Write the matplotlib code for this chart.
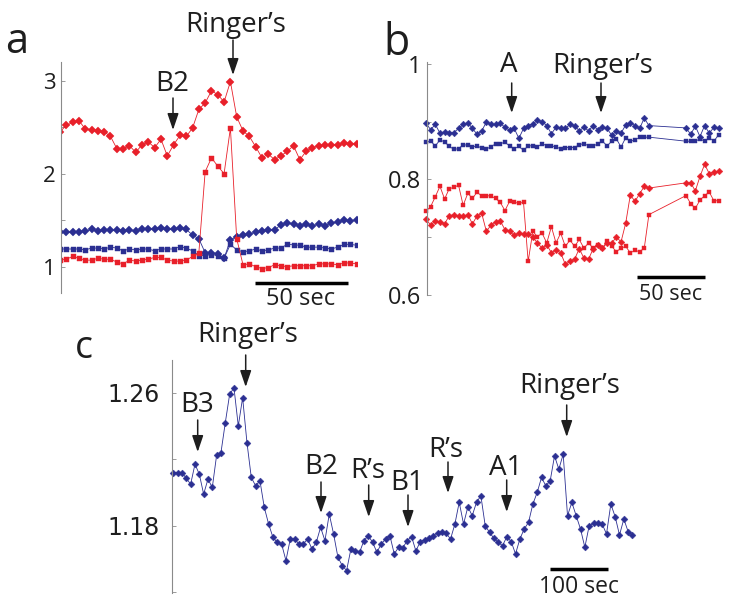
import numpy as np
import matplotlib
matplotlib.use('Agg')
import matplotlib.pyplot as plt
from matplotlib.patches import FancyArrowPatch
from matplotlib.ticker import FixedLocator

plt.rcParams['font.family'] = ['Open Sans', 'DejaVu Sans']

W, H = 729, 600
RED = '#e8202a'
BLUE = '#2b2f92'
INK = '#1e1e1e'
SPINE = '#8a8a8a'

# ---------------- Panel a (one sample every 3.4 s) ----------------
A_DT = 3.4
a_red_diamond = [2.45, 2.52, 2.55, 2.57, 2.48, 2.47, 2.46, 2.45, 2.40, 2.27,
                 2.27, 2.30, 2.23, 2.31, 2.34, 2.28, 2.37, 2.19, 2.31, 2.41,
                 2.40, 2.49, 2.69, 2.76, 2.89, 2.85, 2.77, 2.99, 2.61, 2.46,
                 2.40, 2.29, 2.17, 2.21, 2.15, 2.19, 2.24, 2.30, 2.15, 2.24,
                 2.28, 2.30, 2.31, 2.31, 2.31, 2.33, 2.32, 2.32]
a_blue_diamond = [1.37, 1.37, 1.37, 1.37, 1.38, 1.40, 1.38, 1.39, 1.39, 1.39,
                  1.38, 1.39, 1.38, 1.40, 1.40, 1.41, 1.42, 1.40, 1.40, 1.42,
                  1.40, 1.34, 1.30, 1.15, 1.15, 1.14, 1.09, 1.29, 1.32, 1.34,
                  1.35, 1.37, 1.38, 1.395, 1.395, 1.45, 1.47, 1.455, 1.44, 1.455,
                  1.44, 1.455, 1.44, 1.47, 1.48, 1.50, 1.49, 1.50]
a_blue_square = [1.19, 1.19, 1.19, 1.19, 1.18, 1.20, 1.20, 1.19, 1.21, 1.20,
                 1.17, 1.19, 1.18, 1.19, 1.19, 1.17, 1.19, 1.19, 1.19, 1.215,
                 1.20, 1.17, 1.12, 1.12, 1.13, 1.12, 1.09, 1.24, 1.18, 1.16,
                 1.17, 1.19, 1.17, 1.18, 1.20, 1.20, 1.24, 1.235, 1.23, 1.21,
                 1.21, 1.21, 1.20, 1.19, 1.21, 1.24, 1.24, 1.23]
a_red_square = [1.07, 1.08, 1.11, 1.09, 1.07, 1.07, 1.09, 1.08, 1.08, 1.05,
                1.03, 1.07, 1.06, 1.07, 1.08, 1.10, 1.10, 1.07, 1.06, 1.06,
                1.07, 1.11, 1.15, 2.02, 2.17, 2.08, 2.00, 2.49, 1.30, 1.02,
                1.03, 1.00, 0.98, 0.99, 1.02, 1.01, 1.00, 1.01, 1.01, 1.01,
                1.01, 1.03, 1.03, 1.03, 1.02, 1.04, 1.04, 1.03]
A_YTICKS = [1, 2, 3]
A_YTICKLABELS = ['1', '2', '3']
A_YMINOR = [1.5, 2.5]

# ---------------- Panel b (one sample every 3.4 s, recording gap) ----------------
B_DT = 3.4
b_sample = list(range(0, 49)) + list(range(56, 64))
b_blue_diamond = [0.897, 0.886, 0.895, 0.880, 0.882, 0.880, 0.881, 0.888, 0.895, 0.898,
                  0.888, 0.878, 0.884, 0.899, 0.895, 0.895, 0.897, 0.890, 0.885, 0.888,
                  0.871, 0.888, 0.893, 0.896, 0.902, 0.900, 0.893, 0.879, 0.890, 0.889,
                  0.888, 0.895, 0.893, 0.884, 0.890, 0.884, 0.893, 0.886, 0.891, 0.888,
                  0.876, 0.884, 0.880, 0.894, 0.898, 0.893, 0.888, 0.906, 0.893,
                  0.889, 0.878, 0.892, 0.874, 0.893, 0.880, 0.890, 0.889]
b_blue_square = [0.864, 0.866, 0.858, 0.868, 0.865, 0.857, 0.852, 0.853, 0.860, 0.859,
                 0.856, 0.858, 0.854, 0.853, 0.856, 0.862, 0.862, 0.864, 0.858, 0.853,
                 0.857, 0.850, 0.858, 0.858, 0.856, 0.862, 0.858, 0.858, 0.856, 0.853,
                 0.855, 0.855, 0.855, 0.860, 0.862, 0.858, 0.857, 0.862, 0.866, 0.858,
                 0.866, 0.870, 0.856, 0.872, 0.866, 0.868, 0.873, 0.873, 0.873,
                 0.866, 0.866, 0.866, 0.870, 0.866, 0.872, 0.866, 0.877]
b_red_square = [0.745, 0.753, 0.770, 0.788, 0.766, 0.784, 0.786, 0.790, 0.755, 0.776,
                0.767, 0.778, 0.771, 0.772, 0.771, 0.767, 0.760, 0.746, 0.762, 0.760,
                0.759, 0.760, 0.658, 0.710, 0.701, 0.707, 0.690, 0.718, 0.690, 0.707,
                0.684, 0.695, 0.684, 0.696, 0.681, 0.690, 0.681, 0.687, 0.681, 0.693,
                0.684, 0.675, 0.681, 0.684, 0.673, 0.677, 0.675, 0.681, 0.739,
                0.772, 0.758, 0.750, 0.764, 0.772, 0.778, 0.763, 0.763]
b_red_diamond = [0.731, 0.721, 0.728, 0.727, 0.723, 0.737, 0.739, 0.736, 0.736, 0.739,
                 0.723, 0.737, 0.741, 0.710, 0.721, 0.727, 0.728, 0.713, 0.710, 0.703,
                 0.707, 0.705, 0.705, 0.700, 0.690, 0.681, 0.687, 0.673, 0.678, 0.673,
                 0.653, 0.658, 0.662, 0.680, 0.664, 0.662, 0.680, 0.686, 0.681, 0.690,
                 0.690, 0.700, 0.692, 0.724, 0.773, 0.762, 0.775, 0.788, 0.785,
                 0.794, 0.794, 0.780, 0.805, 0.826, 0.810, 0.813, 0.814]
B_YTICKS = [0.6, 0.8, 1.0]
B_YTICKLABELS = ['0.6', '0.8', '1']
B_YMINOR = [0.7, 0.9]

# ---------------- Panel c (one sample every 7.5 s) ----------------
C_DT = 7.5
c_values = [1.212, 1.212, 1.212, 1.2085, 1.205, 1.217, 1.211, 1.199, 1.208, 1.203,
            1.2225, 1.224, 1.242, 1.259, 1.263, 1.240, 1.257, 1.230, 1.209, 1.204,
            1.207, 1.191, 1.181, 1.173, 1.170, 1.169, 1.159, 1.172, 1.172, 1.169,
            1.169, 1.172, 1.166, 1.170, 1.179, 1.171, 1.187, 1.175, 1.161, 1.156,
            1.153, 1.166, 1.165, 1.164, 1.171, 1.174, 1.170, 1.164, 1.169, 1.172,
            1.174, 1.163, 1.167,
            1.1668, 1.171, 1.1734, 1.1648, 1.1704, 1.1714, 1.1724, 1.174, 1.1758, 1.1764,
            1.1754, 1.172, 1.181, 1.1941, 1.181, 1.1914, 1.186, 1.1941, 1.198,
            1.180, 1.176, 1.1724, 1.170, 1.168, 1.1734, 1.1704, 1.163, 1.172, 1.178,
            1.182, 1.193, 1.200, 1.209, 1.204, 1.207, 1.222, 1.214, 1.223, 1.186,
            1.194, 1.186, 1.178, 1.167, 1.180, 1.1814, 1.1814, 1.181, 1.175, 1.193,
            1.1854, 1.1744, 1.184, 1.1764, 1.1744]
C_YTICKS = [1.18, 1.26]
C_YTICKLABELS = ['1.18', '1.26']
C_YMINOR = [1.14, 1.22]

# ---------------- figure ----------------
fig = plt.figure(figsize=(W / 100, H / 100), dpi=100)


def px_axes(left, top, right, bottom):
    return fig.add_axes([left / W, 1 - bottom / H, (right - left) / W, (bottom - top) / H])


def fx(x):
    return x / W


def fy(y):
    return 1 - y / H


def style_axis(ax, ticks, labels, minor, size, pad, family):
    for s in ('top', 'right', 'bottom'):
        ax.spines[s].set_visible(False)
    ax.spines['left'].set_color(SPINE)
    ax.spines['left'].set_linewidth(0.8)
    ax.set_xticks([])
    ax.set_yticks(ticks)
    ax.set_yticklabels(labels, fontsize=size, fontfamily=family, color=INK)
    ax.yaxis.set_minor_locator(FixedLocator(minor))
    ax.tick_params(axis='y', which='both', direction='in', length=3, width=0.6,
                   color=SPINE, pad=pad)
    ax.patch.set_alpha(0)


def series(ax, t, y, color, marker, ms, clip=True):
    ax.plot(t, y, color=color, lw=0.6, marker=marker, ms=ms, mec=color, mfc=color,
            mew=0.3, clip_on=clip)


def arrow(x, y0, y1):
    fig.add_artist(FancyArrowPatch((fx(x), fy(y0)), (fx(x), fy(y1)),
                                   transform=fig.transFigure,
                                   arrowstyle='-|>,head_length=10,head_width=3.4',
                                   mutation_scale=1, lw=1.1, color=INK,
                                   shrinkA=0, shrinkB=0))


def label(x, y, s, size=20, ha='center'):
    fig.text(fx(x), fy(y), s, fontsize=size, ha=ha, va='baseline', color=INK)


# ---- panel a ----
axa = px_axes(61, 62, 357, 293)
ta = np.arange(len(a_red_diamond)) * A_DT
series(axa, ta, a_red_diamond, RED, 'D', 3.7)
series(axa, ta, a_blue_diamond, BLUE, 'D', 3.7)
series(axa, ta, a_blue_square, BLUE, 's', 3.6)
series(axa, ta, a_red_square, RED, 's', 3.6)
axa.set_xlim(0.54, 160.0)
axa.set_ylim(0.717, 3.2)
style_axis(axa, A_YTICKS, A_YTICKLABELS, A_YMINOR, 16, 4, ['Open Sans', 'DejaVu Sans'])
A_BAR_START, A_BAR_LEN, A_BAR_Y = 105.1, 50, 0.828
axa.plot([A_BAR_START, A_BAR_START + A_BAR_LEN], [A_BAR_Y, A_BAR_Y], color='black',
         lw=2.5, solid_capstyle='butt', clip_on=False)

# ---- panel b ----
axb = px_axes(426.7, 62, 718, 295)
tb = np.array(b_sample) * B_DT
series(axb, tb, b_blue_diamond, BLUE, 'D', 3.4, clip=False)
series(axb, tb, b_blue_square, BLUE, 's', 3.4, clip=False)
series(axb, tb, b_red_square, RED, 's', 3.4, clip=False)
series(axb, tb, b_red_diamond, RED, 'D', 3.4, clip=False)
axb.set_xlim(0.5, 213.8)
axb.set_ylim(0.6, 1.003)
style_axis(axb, B_YTICKS, B_YTICKLABELS, B_YMINOR, 17, 4, ['Open Sans', 'DejaVu Sans'])
B_BAR_START, B_BAR_LEN, B_BAR_Y = 154.5, 50, 0.631
axb.plot([B_BAR_START, B_BAR_START + B_BAR_LEN], [B_BAR_Y, B_BAR_Y], color='black',
         lw=2.5, solid_capstyle='butt', clip_on=False)

# ---- panel c ----
axc = px_axes(171.7, 360, 640, 593)
tc = np.arange(len(c_values)) * C_DT
series(axc, tc, c_values, BLUE, 'D', 3.5, clip=False)
axc.set_xlim(-2.8, 808)
axc.set_ylim(1.1395, 1.2797)
style_axis(axc, C_YTICKS, C_YTICKLABELS, C_YMINOR, 17, 8.4, ['DejaVu Sans'])
C_BAR_START, C_BAR_LEN, C_BAR_Y = 652.5, 100, 1.154
axc.plot([C_BAR_START, C_BAR_START + C_BAR_LEN], [C_BAR_Y, C_BAR_Y], color='black',
         lw=2.5, solid_capstyle='butt', clip_on=False)

# ---- panel letters ----
label(5, 52.7, 'a', size=30, ha='left')
label(383, 55, 'b', size=31, ha='left')
label(75, 358.3, 'c', size=27, ha='left')

# ---- annotations ----
label(236, 32.3, 'Ringer\u2019s')
arrow(233, 40, 75)
label(172.5, 90.7, 'B2')
arrow(173, 98, 130)
label(301, 305, '50 sec', size=17)

label(509, 72.5, 'A')
arrow(511.7, 83, 113)
label(602.5, 72.5, 'Ringer\u2019s')
arrow(601, 83, 113)
label(671, 300, '50 sec', size=15.5)

label(247.5, 341.7, 'Ringer\u2019s')
arrow(245.7, 355, 387)
label(197.5, 411.7, 'B3')
arrow(197.7, 420, 452)
label(321, 474, 'B2')
arrow(321, 482, 513)
label(368, 478.3, 'R\u2019s')
arrow(368.7, 485, 517)
label(407.5, 490, 'B1')
arrow(408, 495, 527)
label(446, 457.3, 'R\u2019s')
arrow(448, 462, 493)
label(506, 475, 'A1')
arrow(506.7, 480, 512)
label(569.5, 392.7, 'Ringer\u2019s')
arrow(566.7, 405, 437)
label(579, 592.7, '100 sec', size=16.5)

fig.savefig('out.png', dpi=100)
